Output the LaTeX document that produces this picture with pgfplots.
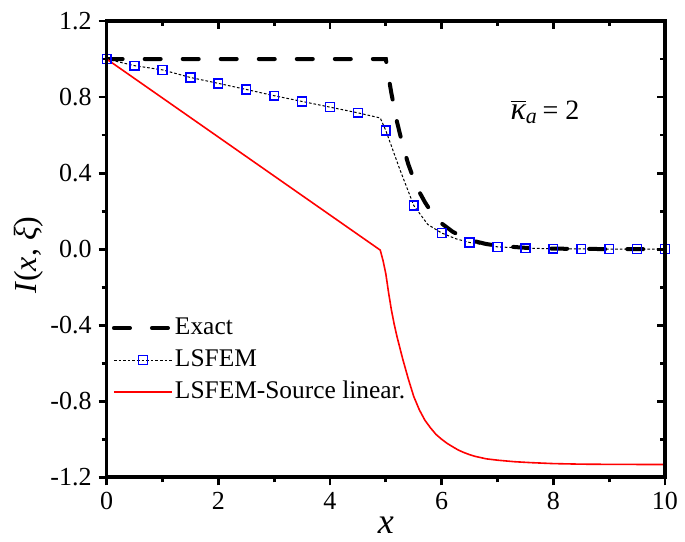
\documentclass[border=0pt]{standalone}
\usepackage{fontspec}
\setmainfont{Liberation Serif}
\usepackage{pgfplots}
\pgfplotsset{compat=1.18}

\pgfplotsset{
  frame/.style={
    width=279pt, height=228pt, scale only axis,
    xmin=0, xmax=10, ymin=-1.2, ymax=1.2,
    xtick={0,2,...,10}, ytick={-1.2,-0.8,...,1.21},
    minor x tick num=1, minor y tick num=1,
    axis line style={line width=1.8pt},
    major tick length=4pt, minor tick length=2.5pt,
    every tick/.style={black, line width=1.4pt},
  },
  leg/.style={legend image code/.code={
    \draw[mark repeat=2,mark phase=2,##1] plot coordinates {(0pt,0pt) (14.5pt,0pt) (29pt,0pt)};}},
  lsleg/.style={legend image code/.code={
    \draw[##1, mark indices={2}] plot coordinates {(0pt,0pt) (14.5pt,0pt) (29pt,0pt)};}},
}

\begin{document}
\begin{tikzpicture}
\begin{axis}[frame,
  tick align=outside, xtick pos=left, ytick pos=left,
  /pgf/number format/assume math mode=true,
  ticklabel style={font=\fontsize{13}{15}\selectfont},
  yticklabel style={/pgf/number format/.cd, fixed, fixed zerofill, precision=1},
  xlabel={\textit{x}},
  ylabel={\textit{I}(\textit{x}, \textit{ξ})},
  xlabel style={font=\fontsize{18}{20}\selectfont, at={(axis description cs:0.5,-0.104)}, anchor=center},
  ylabel style={font=\fontsize{16}{18}\selectfont, at={(axis description cs:-0.14,0.487)}, anchor=center},
  leg,
  legend cell align=left,
  legend style={draw=none, fill=none, at={(axis description cs:-0.002,0.364)}, anchor=north west,
    font=\fontsize{12.7}{14}\selectfont, row sep=3.6pt,
    nodes={inner sep=0.5pt, text height=8.8pt, text depth=2.6pt},
    /tikz/every even column/.append style={column sep=5.5pt}},
]
% Exact
\addplot[black, line width=2pt, line cap=round, dash pattern=on 8pt off 11pt] coordinates {
 (0,1) (5,1) (5.05,0.905) (5.1,0.819) (5.2,0.670) (5.3,0.549) (5.4,0.449) (5.5,0.368)
 (5.6,0.301) (5.7,0.247) (5.8,0.202) (5.9,0.165) (6.0,0.135) (6.2,0.091) (6.4,0.061)
 (6.6,0.041) (6.8,0.027) (7.0,0.018) (7.5,0.007) (8,0.0025) (9,0.0003) (10,0)
};
% LSFEM
\addplot[black, line width=0.5pt, dash pattern=on 1.3pt off 1pt,
  mark=square, mark size=2.2pt, mark options={blue, solid, line width=0.75pt},
  mark indices={1,2,3,4,5,6,7,8,9,10,12,14,16,18,19,20,21,22,23,24,25}, lsleg]
 coordinates {
 (0,1.0) (0.5,0.965) (1,0.943) (1.5,0.903) (2,0.872) (2.5,0.84) (3,0.807) (3.5,0.777)
 (4,0.747) (4.5,0.717) (4.9,0.69) (5,0.624) (5.25,0.42) (5.5,0.23) (5.75,0.13) (6,0.085)
 (6.25,0.055) (6.5,0.035) (7,0.012) (7.5,0.005) (8,0.002) (8.5,0.001) (9,0) (9.5,0) (10,0)
};
% LSFEM-Source linear.
\addplot[red, line width=0.8pt] coordinates {
 (0,1) (4.9,-0.005) (4.95,-0.06) (5.0,-0.13) (5.05,-0.23) (5.1,-0.32) (5.15,-0.395)
 (5.2,-0.46) (5.3,-0.575) (5.4,-0.68) (5.5,-0.775) (5.6,-0.845) (5.7,-0.9) (5.8,-0.94)
 (5.9,-0.975) (6.0,-1.0) (6.1,-1.022) (6.2,-1.04) (6.3,-1.057) (6.4,-1.07) (6.5,-1.081)
 (6.6,-1.09) (6.8,-1.103) (7.0,-1.11) (7.3,-1.118) (7.6,-1.123) (8,-1.128) (8.5,-1.131)
 (9,-1.132) (10,-1.133)
};
\legend{Exact, LSFEM, LSFEM-Source linear.}
\node[font=\fontsize{14}{16}\selectfont] at (axis cs:7.85,0.72)
  {$\overline{\mbox{\fontsize{16}{18}\selectfont\itshape κ}}_{\mbox{\fontsize{11}{12}\selectfont\itshape a}}$\,= 2};
\end{axis}
\begin{axis}[frame,
  tick align=inside, xtick pos=right, ytick pos=right,
  xticklabels={}, yticklabels={},
]
\end{axis}
\pgfresetboundingbox
\path[use as bounding box] (-53.3pt,-32pt) rectangle (289pt,238.5pt);
\end{tikzpicture}
\end{document}
